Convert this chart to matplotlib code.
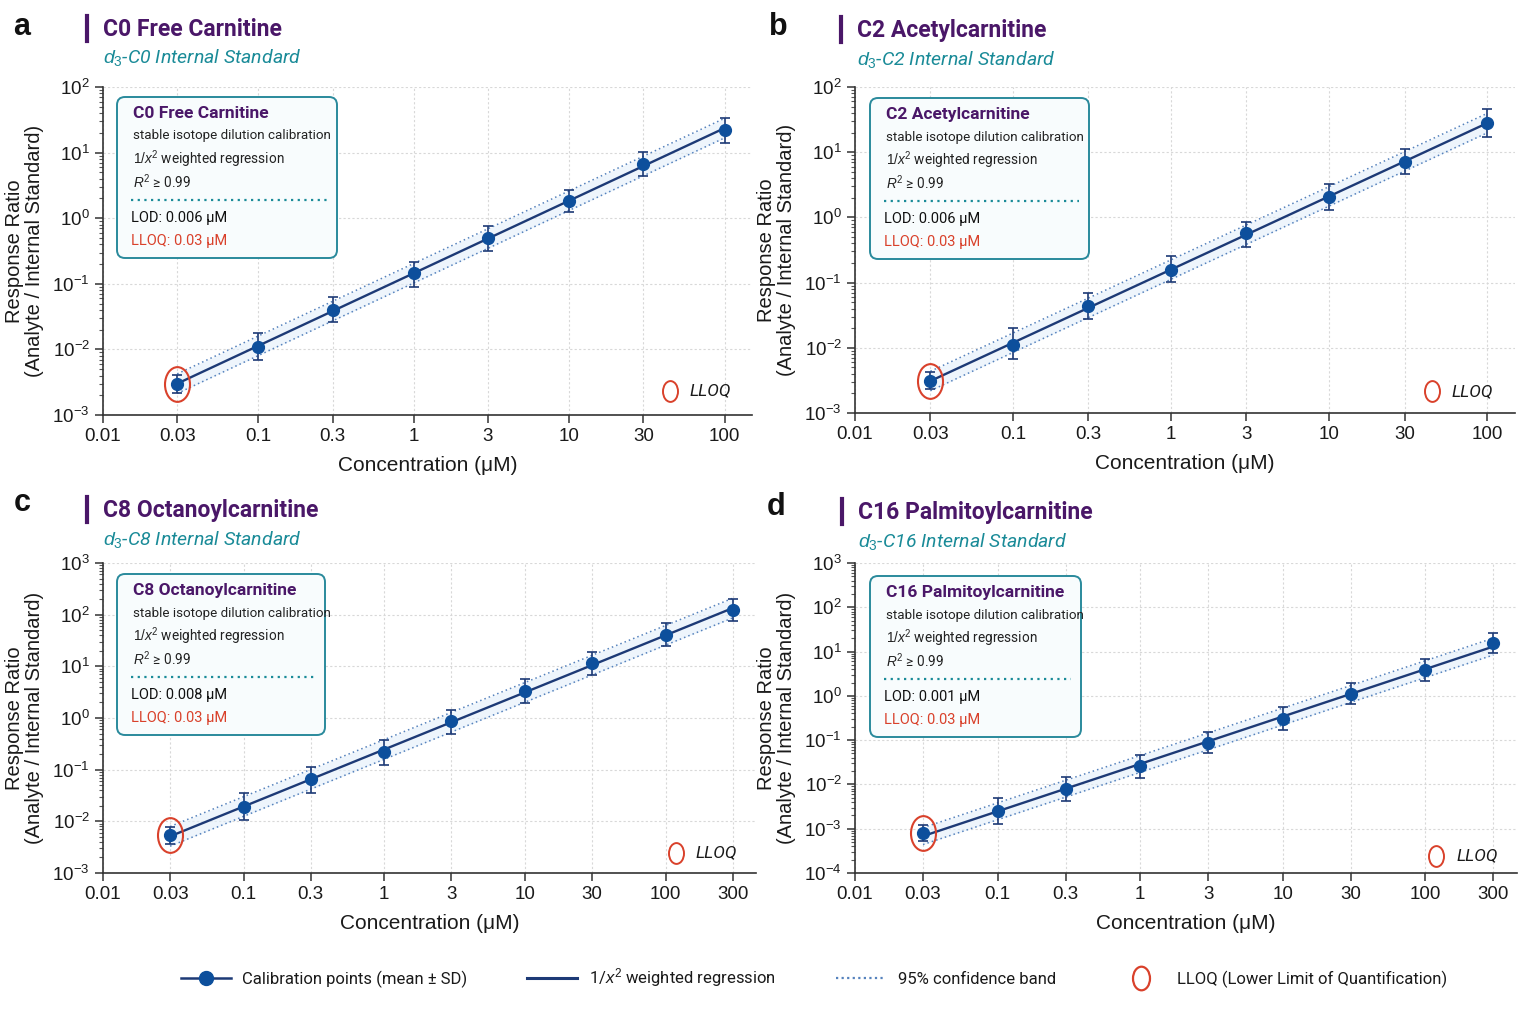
import numpy as np
import matplotlib
matplotlib.use("Agg")
import matplotlib.pyplot as plt
from matplotlib.patches import FancyBboxPatch
from matplotlib.path import Path
from matplotlib.transforms import Affine2D
from matplotlib.lines import Line2D
import matplotlib.ticker as mticker
from matplotlib import font_manager as fm

# ---------------- data ----------------
conc_ab = [0.03, 0.1, 0.3, 1, 3, 10, 30, 100]
conc_cd = [0.03, 0.1, 0.3, 1, 3, 10, 30, 100, 300]
xt_ab = [0.01, 0.03, 0.1, 0.3, 1, 3, 10, 30, 100]
xt_cd = [0.01, 0.03, 0.1, 0.3, 1, 3, 10, 30, 100, 300]
xtl_ab = ["0.01", "0.03", "0.1", "0.3", "1", "3", "10", "30", "100"]
xtl_cd = ["0.01", "0.03", "0.1", "0.3", "1", "3", "10", "30", "100", "300"]

c0_mean = [0.0030, 0.0107, 0.040, 0.146, 0.50, 1.85, 6.7, 21.9]
c0_hi = [0.0041, 0.018, 0.063, 0.215, 0.77, 2.7, 10.2, 33.9]
c0_lo = [0.0022, 0.0068, 0.026, 0.090, 0.32, 1.25, 4.4, 14.1]

c2_mean = [0.0031, 0.0112, 0.044, 0.156, 0.57, 2.09, 7.1, 27.7]
c2_hi = [0.0042, 0.0204, 0.069, 0.253, 0.86, 3.2, 11.3, 45.9]
c2_lo = [0.0023, 0.0068, 0.0275, 0.101, 0.35, 1.32, 4.6, 17.1]

c8_mean = [0.0054, 0.0187, 0.065, 0.216, 0.86, 3.28, 11.5, 41, 123]
c8_hi = [0.0078, 0.036, 0.115, 0.376, 1.46, 5.6, 19.1, 67.6, 204]
c8_lo = [0.0037, 0.0105, 0.036, 0.124, 0.48, 1.93, 6.9, 24.5, 74]

c16_mean = [0.00081, 0.00245, 0.0079, 0.0255, 0.088, 0.304, 1.11, 3.9, 15.5]
c16_hi = [0.00123, 0.0049, 0.0148, 0.047, 0.15, 0.55, 1.93, 6.9, 26.3]
c16_lo = [0.00054, 0.00129, 0.0043, 0.0141, 0.052, 0.167, 0.64, 2.19, 9.1]

band_fold = [1.41, 1.41, 1.55, 1.55]   # multiplicative half-width of 95% CI band
titles = ["C0 Free Carnitine", "C2 Acetylcarnitine", "C8 Octanoylcarnitine", "C16 Palmitoylcarnitine"]
istd = ["C0", "C2", "C8", "C16"]
lods = ["0.006", "0.006", "0.008", "0.001"]
lloqs = ["0.03", "0.03", "0.03", "0.03"]
letters = ["a", "b", "c", "d"]

# ---------------- style ----------------
W, H = 1536, 1024


def has(f):
    try:
        fm.findfont(fm.FontProperties(family=f), fallback_to_default=False)
        return True
    except Exception:
        return False


NARROW = 'Liberation Sans Narrow' if has('Liberation Sans Narrow') else 'Roboto'
SANS = ['Liberation Sans', 'DejaVu Sans']
plt.rcParams['font.family'] = SANS
plt.rcParams['mathtext.fontset'] = 'custom'
plt.rcParams['mathtext.rm'] = 'Liberation Sans'
plt.rcParams['mathtext.it'] = 'Liberation Sans:italic'
plt.rcParams['mathtext.bf'] = 'Liberation Sans:bold'

PURPLE = '#4a1768'
TEAL = '#1a8b98'
BOXEDGE = '#2a8a9c'
RED = '#d9412b'
PT = '#0d4f9c'
NAVY = '#1d3a76'
CI = '#5582bd'
FILL = '#e3effa'

ellipse = Path.unit_circle().transformed(Affine2D().scale(0.72, 1.0))

fig = plt.figure(figsize=(W / 100, H / 100), dpi=100)
fig.patch.set_facecolor('white')


def fx(x):
    return x / W


def fy(y):
    return 1 - y / H


def rect(l, r, t, b):
    return [l / W, 1 - b / H, (r - l) / W, (b - t) / H]


panels = [
    dict(r=(103, 752, 87, 415), conc=conc_ab, mean=c0_mean, lo=c0_lo, hi=c0_hi, xt=xt_ab, xtl=xtl_ab,
         xlim=(0.01, 150), ylim=(1e-3, 1e2), let=(22, 27), tit=(103, 29), box=(117, 97, 337, 258),
         ll=(0.874, 0.073)),
    dict(r=(855, 1515, 87, 413), conc=conc_ab, mean=c2_mean, lo=c2_lo, hi=c2_hi, xt=xt_ab, xtl=xtl_ab,
         xlim=(0.01, 150), ylim=(1e-3, 1e2), let=(778, 27), tit=(857, 30), box=(870, 98, 1089, 259),
         ll=(0.874, 0.067)),
    dict(r=(103, 756, 563, 873), conc=conc_cd, mean=c8_mean, lo=c8_lo, hi=c8_hi, xt=xt_cd, xtl=xtl_cd,
         xlim=(0.01, 440), ylim=(1e-3, 1e3), let=(22, 503), tit=(103, 510), box=(117, 574, 325, 735),
         ll=(0.877, 0.065)),
    dict(r=(855, 1517, 563, 873), conc=conc_cd, mean=c16_mean, lo=c16_lo, hi=c16_hi, xt=xt_cd, xtl=xtl_cd,
         xlim=(0.01, 440), ylim=(1e-4, 1e3), let=(776, 507), tit=(858, 512), box=(870, 576, 1081, 737),
         ll=(0.878, 0.055)),
]

for i, p in enumerate(panels):
    ax = fig.add_axes(rect(*p['r']))
    conc = np.array(p['conc'], float)
    mean = np.array(p['mean'], float)
    lo = np.array(p['lo'], float)
    hi = np.array(p['hi'], float)
    lx, ly = np.log10(conc), np.log10(mean)
    m, b = np.polyfit(lx, ly, 1)
    fit = 10 ** (b + m * lx)
    bf = band_fold[i]

    ax.fill_between(conc, fit / bf, fit * bf, color=FILL, alpha=0.6, lw=0, zorder=1)
    ax.plot(conc, fit * bf, ls=(0, (1, 2)), color=CI, lw=1.1, zorder=2)
    ax.plot(conc, fit / bf, ls=(0, (1, 2)), color=CI, lw=1.1, zorder=2)
    ax.plot(conc, fit, color=NAVY, lw=1.7, zorder=3)
    ax.errorbar(conc, mean, yerr=[mean - lo, hi - mean], fmt='o', ms=8.5, mfc=PT, mec=PT,
                ecolor=NAVY, elinewidth=1.2, capsize=3.5, capthick=1.2, zorder=5)
    ax.plot(conc[:1], mean[:1], ls='none', marker=ellipse, ms=25, mfc='none', mec=RED, mew=1.5, zorder=6)

    ax.set_xscale('log')
    ax.set_yscale('log')
    ax.set_xlim(*p['xlim'])
    ax.set_ylim(*p['ylim'])
    ax.set_xticks(p['xt'])
    ax.set_xticklabels(p['xtl'])
    ax.xaxis.set_minor_locator(mticker.NullLocator())
    ax.yaxis.set_major_locator(mticker.LogLocator(base=10, numticks=20))
    ax.yaxis.set_minor_locator(mticker.LogLocator(base=10, subs=np.arange(2, 10), numticks=20))
    ax.yaxis.set_minor_formatter(mticker.NullFormatter())
    ax.grid(True, which='major', color='#d8d8d8', ls=(0, (2, 2)), lw=0.8, zorder=0)
    ax.set_axisbelow(True)
    for s in ['top', 'right']:
        ax.spines[s].set_visible(False)
    for s in ['left', 'bottom']:
        ax.spines[s].set_color('#333333')
        ax.spines[s].set_linewidth(1.2)
    ax.tick_params(axis='both', which='major', labelsize=13.5, length=6, width=1.1, color='#333333',
                   labelcolor='#1a1a1a')
    ax.tick_params(axis='y', which='minor', length=3, width=0.8, color='#555555')
    ax.set_xlabel("Concentration (μM)", fontsize=15, labelpad=8, color='#1a1a1a')
    ax.set_ylabel("Response Ratio\n(Analyte / Internal Standard)", fontsize=14.5, labelpad=6,
                  color='#1a1a1a', linespacing=1.05)

    # LLOQ key inside axes
    lx0, ly0 = p['ll']
    ax.plot([lx0], [ly0], transform=ax.transAxes, ls='none', marker=ellipse, ms=15, mfc='none',
            mec=RED, mew=1.4, clip_on=False)
    ax.text(lx0 + 0.03, ly0, "LLOQ", transform=ax.transAxes, fontsize=12.5, style='italic',
            family=NARROW, color='#1a1a1a', va='center', ha='left')

    # panel letter, title bar, title, subtitle
    L = p['let']
    fig.text(fx(L[0]), fy(L[1]), letters[i], fontsize=22, fontweight='bold', color='#111111',
             ha='center', va='center')
    tx, ty = p['tit']
    fig.add_artist(Line2D([fx(tx - 16), fx(tx - 16)], [fy(ty - 13), fy(ty + 12)], color=PURPLE, lw=3))
    fig.text(fx(tx), fy(ty), titles[i], fontsize=16.5, fontweight='bold', color=PURPLE,
             family=NARROW, ha='left', va='center')
    fig.text(fx(tx), fy(ty + 29), r"$d_3$-" + istd[i] + " Internal Standard", fontsize=14,
             style='italic', color=TEAL, family=NARROW, ha='left', va='center')

    # info box
    bx0, by0, bx1, by1 = p['box']
    fig.add_artist(FancyBboxPatch((bx0 / 100, (H - by1) / 100), (bx1 - bx0) / 100, (by1 - by0) / 100,
                                  boxstyle="round,pad=0,rounding_size=0.08",
                                  transform=fig.dpi_scale_trans, facecolor='#f8fcfd',
                                  edgecolor=BOXEDGE, lw=1.4, zorder=10))
    tx0 = bx0 + 16
    fig.text(fx(tx0), fy(by0 + 16), titles[i], fontsize=12.5, fontweight='bold', color=PURPLE,
             family=NARROW, ha='left', va='center', zorder=11)
    fig.text(fx(tx0), fy(by0 + 39), "stable isotope dilution calibration", fontsize=9.6,
             color='#222222', family=NARROW, ha='left', va='center', zorder=11)
    fig.text(fx(tx0), fy(by0 + 62), r"$1/x^2$ weighted regression", fontsize=9.8,
             color='#222222', family=NARROW, ha='left', va='center', zorder=11)
    fig.text(fx(tx0), fy(by0 + 85), r"$R^2$ ≥ 0.99", fontsize=9.8,
             color='#222222', family=NARROW, ha='left', va='center', zorder=11)
    fig.add_artist(Line2D([fx(bx0 + 14), fx(bx1 - 10)], [fy(by0 + 103), fy(by0 + 103)], color=TEAL,
                          lw=1.6, ls=(0, (1, 2)), zorder=11))
    fig.text(fx(bx0 + 14), fy(by0 + 121), "LOD: " + lods[i] + " μM", fontsize=10.5,
             color='#111111', family=NARROW, ha='left', va='center', zorder=11)
    fig.text(fx(bx0 + 14), fy(by0 + 144), "LLOQ: " + lloqs[i] + " μM", fontsize=10.5,
             color=RED, family=NARROW, ha='left', va='center', zorder=11)

# ---------------- legend ----------------
h1 = Line2D([], [], color=NAVY, lw=1.8, marker='o', ms=10, mfc=PT, mec=PT)
h2 = Line2D([], [], color=NAVY, lw=2.2)
h3 = Line2D([], [], color=CI, lw=1.6, ls=(0, (1, 1.5)))
h4 = Line2D([], [], ls='none', marker=ellipse, ms=17, mfc='none', mec=RED, mew=1.6)
leg = fig.legend([h1, h2, h3, h4],
                 ["Calibration points (mean ± SD)", r"1/$x^2$ weighted regression",
                  "95% confidence band", "LLOQ (Lower Limit of Quantification)"],
                 loc='center', bbox_to_anchor=(0.53, fy(978)), ncol=4, frameon=False,
                 prop=fm.FontProperties(family=NARROW, size=12), handlelength=3.0,
                 columnspacing=3.6, handletextpad=0.7)
for t in leg.get_texts():
    t.set_color('#1a1a1a')

fig.savefig("out.png", dpi=100, facecolor='white')
